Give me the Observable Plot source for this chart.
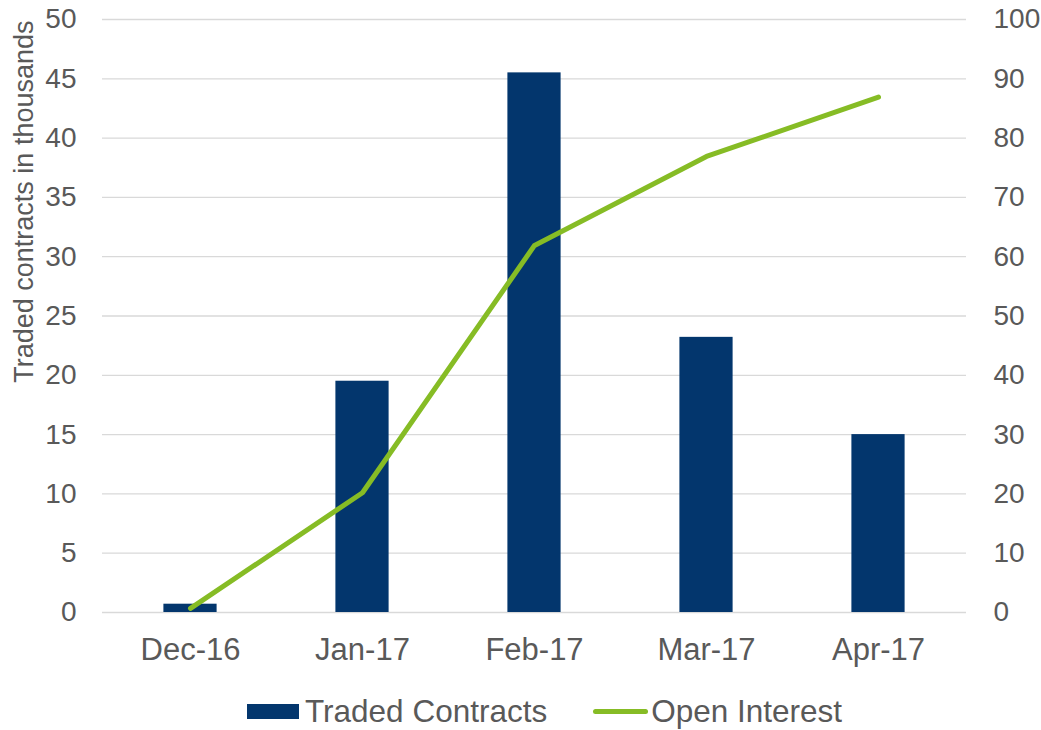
<!DOCTYPE html>
<html>
<head>
<meta charset="utf-8">
<script src="https://cdn.jsdelivr.net/npm/d3@7"></script>
<script src="https://cdn.jsdelivr.net/npm/@observablehq/plot@0.6"></script>
<style>
  body { margin: 0; background: #fff; font-family: "Liberation Sans", Arial, sans-serif; }
  #wrap { position: relative; width: 1041px; height: 730px; overflow: hidden; }
  #legend { position: absolute; left: 247px; top: 692px; height: 38px; display: flex; align-items: center; color: #595959; font-size: 31.5px; white-space: nowrap; }
  .sw-bar { display: inline-block; width: 52px; height: 15px; background: #03366D; margin-right: 6px; }
  .sw-line { display: inline-block; width: 55px; height: 5px; border-radius: 3px; background: #86BC25; margin-left: 46px; margin-right: 3px; }
</style>
</head>
<body>
<div id="wrap"></div>
<script>
const months = ["Dec-16", "Jan-17", "Feb-17", "Mar-17", "Apr-17"];
const tradedContracts = [0.7, 19.5, 45.5, 23.2, 15.0];
const openInterest = [0.7, 20.2, 61.9, 76.9, 86.9];
const leftTicks = [0, 5, 10, 15, 20, 25, 30, 35, 40, 45, 50];
const rightTicks = [0, 10, 20, 30, 40, 50, 60, 70, 80, 90, 100];
const seriesNames = ["Traded Contracts", "Open Interest"];
const yTitle = "Traded contracts in thousands";

const ratio = 2; // right axis / left axis
const barData = months.map((m, i) => ({month: m, value: tradedContracts[i]}));
const lineData = months.map((m, i) => ({month: m, value: openInterest[i]}));

const textColor = "#595959";
const bandStep = (1041 - 102 - 75) / months.length;
const barWidth = 54;
const inset = (bandStep - barWidth) / 2;

const chart = Plot.plot({
  width: 1041,
  height: 682,
  marginTop: 19,
  marginBottom: 70,
  marginLeft: 102,
  marginRight: 75,
  style: {fontFamily: "Liberation Sans, Arial, sans-serif", background: "#fff"},
  x: {type: "band", domain: months, paddingInner: 0, paddingOuter: 0},
  y: {domain: [0, 50]},
  marks: [
    Plot.gridY(leftTicks, {stroke: "#d9d9d9", strokeOpacity: 1, strokeWidth: 1.3}),
    Plot.barY(barData, {x: "month", y: "value", fill: "#03366D", insetLeft: inset, insetRight: inset}),
    Plot.lineY(lineData, {x: "month", y: d => d.value / ratio, stroke: "#86BC25", strokeWidth: 5, strokeLinecap: "round"}),
    Plot.axisY(leftTicks, {anchor: "left", tickSize: 0, tickPadding: 26, fontSize: 28, color: textColor, label: null}),
    Plot.axisY(rightTicks.map(d => d / ratio), {anchor: "right", tickSize: 0, tickPadding: 27, fontSize: 28, color: textColor, label: null, tickFormat: d => String(d * ratio)}),
    Plot.axisX({anchor: "bottom", tickSize: 0, tickPadding: 25, fontSize: 31, color: textColor, label: null}),
    Plot.text([yTitle], {frameAnchor: "top-left", rotate: -90, textAnchor: "end", lineAnchor: "bottom", dx: -70, dy: 1, fontSize: 27, fill: textColor})
  ]
});

const wrap = document.getElementById("wrap");
wrap.appendChild(chart);
const legend = document.createElement("div");
legend.id = "legend";
legend.innerHTML = `<span class="sw-bar"></span><span>${seriesNames[0]}</span><span class="sw-line"></span><span>${seriesNames[1]}</span>`;
wrap.appendChild(legend);
</script>
</body>
</html>
